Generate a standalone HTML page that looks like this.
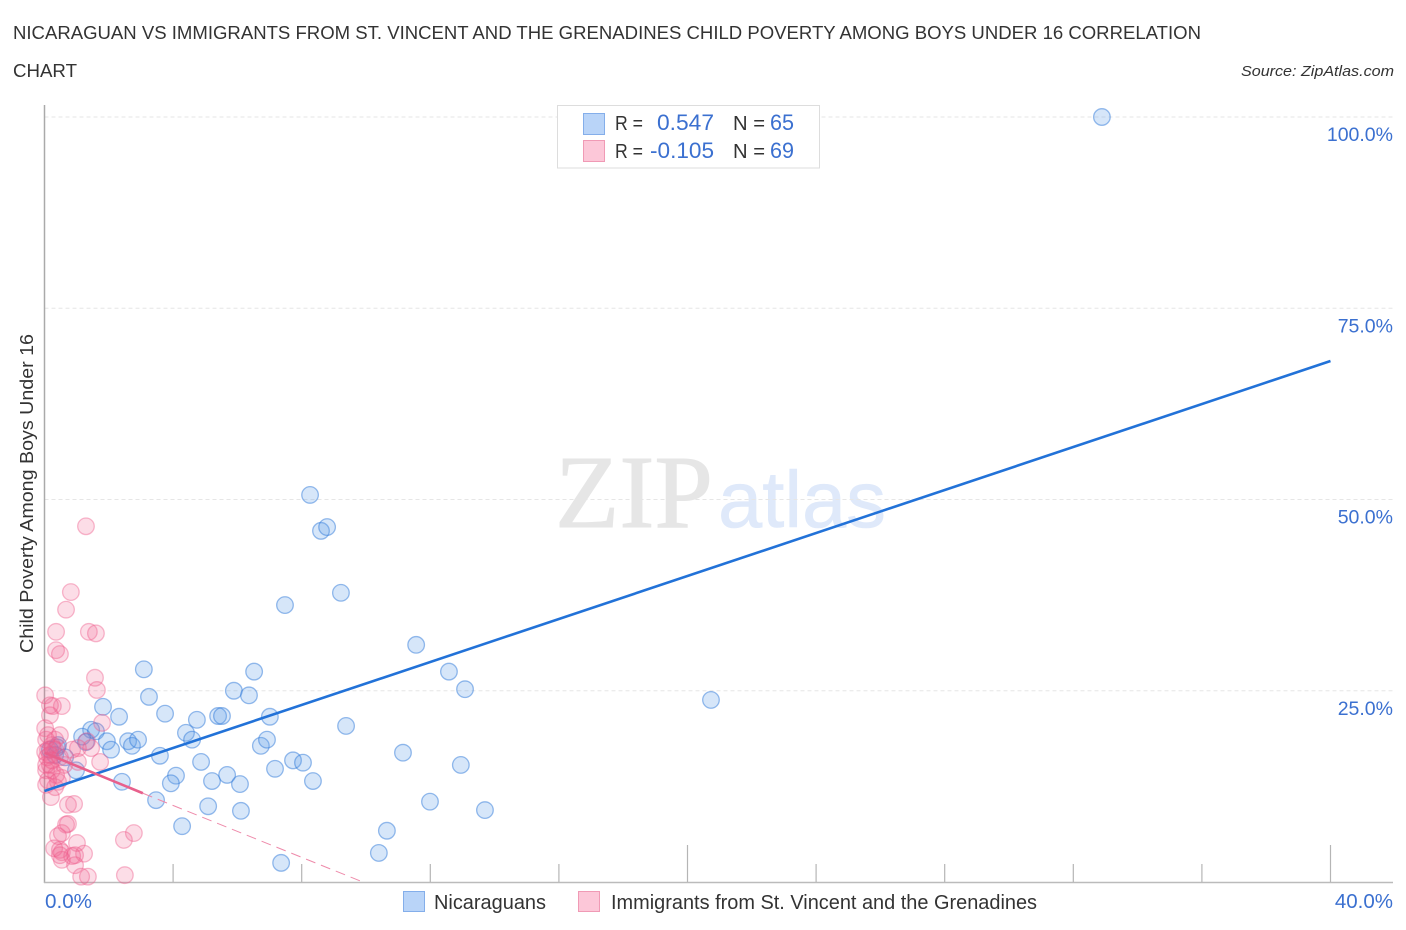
<!DOCTYPE html>
<html>
<head>
<meta charset="utf-8">
<title>Child Poverty Correlation Chart</title>
<style>
html,body{margin:0;padding:0;background:#fff;width:1406px;height:930px;overflow:hidden}
svg{display:block;font-family:"Liberation Sans",sans-serif}
</style>
</head>
<body>
<svg id="chart" width="1406" height="930" viewBox="0 0 1406 930" xmlns="http://www.w3.org/2000/svg">
  <rect width="1406" height="930" fill="#fff"/>
  <text x="13" y="39" font-size="18" fill="#333" textLength="1188" lengthAdjust="spacingAndGlyphs">NICARAGUAN VS IMMIGRANTS FROM ST. VINCENT AND THE GRENADINES CHILD POVERTY AMONG BOYS UNDER 16 CORRELATION</text>
  <text x="13" y="77" font-size="18" fill="#333" textLength="64" lengthAdjust="spacingAndGlyphs">CHART</text>
  <text x="1241" y="76" font-size="15" font-style="italic" fill="#333" textLength="153" lengthAdjust="spacingAndGlyphs">Source: ZipAtlas.com</text>
  <text x="555" y="527" font-family="'Liberation Serif',serif" font-size="104" fill="#e6e6e6" stroke="#e6e6e6" stroke-width="1" textLength="158" lengthAdjust="spacingAndGlyphs">ZIP</text>
  <text x="718" y="527" font-size="80" fill="#dfe9fa" stroke="#dfe9fa" stroke-width="0.6" textLength="168" lengthAdjust="spacingAndGlyphs">atlas</text>
  <g id="grid"></g>
  <g id="axes"></g>
  <g id="marks"></g>
  <g id="lines"></g>
  <g id="labels"></g>
  <text transform="translate(33,493.5) rotate(-90)" font-size="18" fill="#333" text-anchor="middle" textLength="319" lengthAdjust="spacingAndGlyphs">Child Poverty Among Boys Under 16</text>

  <g>
    <rect x="557.5" y="105.5" width="262" height="62.5" fill="#fff" stroke="#ddd"/>
    <rect x="583.5" y="113.5" width="21" height="21" fill="#b9d4f8" stroke="#84aeea"/>
    <rect x="583.5" y="140.5" width="21" height="21" fill="#fcc7d8" stroke="#f09ab5"/>
    <text x="615" y="130" font-size="20" fill="#333" textLength="28" lengthAdjust="spacingAndGlyphs">R =</text>
    <text x="657" y="130" font-size="22" fill="#3b70d0" textLength="57" lengthAdjust="spacingAndGlyphs">0.547</text>
    <text x="733" y="130" font-size="20" fill="#333" textLength="32" lengthAdjust="spacingAndGlyphs">N =</text>
    <text x="770" y="130" font-size="22" fill="#3b70d0" textLength="24" lengthAdjust="spacingAndGlyphs">65</text>
    <text x="615" y="158" font-size="20" fill="#333" textLength="28" lengthAdjust="spacingAndGlyphs">R =</text>
    <text x="650" y="158" font-size="22" fill="#3b70d0" textLength="64" lengthAdjust="spacingAndGlyphs">-0.105</text>
    <text x="733" y="158" font-size="20" fill="#333" textLength="32" lengthAdjust="spacingAndGlyphs">N =</text>
    <text x="770" y="158" font-size="22" fill="#3b70d0" textLength="24" lengthAdjust="spacingAndGlyphs">69</text>
  </g>

  <g>
    <rect x="403.5" y="891.5" width="21" height="20" fill="#b9d4f8" stroke="#84aeea"/>
    <text x="434" y="909" font-size="20" fill="#333" textLength="112" lengthAdjust="spacingAndGlyphs">Nicaraguans</text>
    <rect x="578.5" y="891.5" width="21" height="20" fill="#fcc7d8" stroke="#f09ab5"/>
    <text x="611" y="909" font-size="20" fill="#333" textLength="426" lengthAdjust="spacingAndGlyphs">Immigrants from St. Vincent and the Grenadines</text>
  </g>
</svg>
<script>
var nicaraguanX = [32.89,8.26,8.60,8.79,7.48,9.22,11.56,12.58,13.08,20.73,3.09,6.52,5.89,6.36,3.25,3.75,4.74,5.40,5.52,7.01,9.38,1.82,2.32,1.45,1.60,1.17,1.94,2.07,2.60,2.72,2.91,4.40,4.59,3.59,6.73,6.92,7.73,8.04,7.17,4.87,4.09,3.93,5.21,5.68,6.08,8.35,11.15,12.95,11.99,13.70,3.47,5.09,6.11,4.28,10.65,10.40,7.36,2.41,0.98,1.29,0.39,0.42,0.17,0.33,0.64];
var nicaraguanY = [100.0,50.6,45.9,46.4,36.2,37.8,31.0,27.5,25.2,23.8,27.8,27.5,25.0,24.4,24.2,22.0,21.2,21.7,21.7,21.6,20.4,22.9,21.6,19.9,19.7,19.0,18.4,17.3,18.4,17.8,18.6,19.5,18.6,16.5,17.8,18.6,15.9,15.6,14.8,15.7,13.9,12.9,13.2,14.0,12.8,13.2,16.9,15.3,10.5,9.4,10.7,9.9,9.3,7.3,6.7,3.8,2.5,13.1,14.6,18.3,17.6,17.9,17.3,16.6,16.3];
var immigrantX = [1.29,0.82,0.67,0.36,1.38,1.60,0.36,0.48,1.57,1.63,0.02,0.54,0.26,0.17,0.17,1.79,0.02,0.48,0.33,1.32,0.23,0.11,0.17,0.33,0.02,0.08,0.26,0.48,0.86,1.04,1.45,1.04,1.73,0.61,0.05,0.23,0.36,0.54,0.42,0.05,0.33,0.20,0.73,0.92,0.67,0.73,0.42,0.54,2.47,2.78,1.01,1.23,0.30,0.48,0.54,0.95,0.86,0.54,0.95,1.14,1.35,2.50,0.48,0.05,0.11,0.05,0.17,0.11,0.23];
var immigrantY = [46.5,37.9,35.6,32.7,32.7,32.5,30.3,29.8,26.7,25.1,24.4,23.0,23.0,23.1,21.8,20.8,20.1,19.2,18.6,18.4,17.9,17.3,16.6,17.3,17.0,16.3,17.5,16.3,17.3,17.5,17.5,15.7,15.7,15.3,15.3,14.6,14.0,13.6,13.1,12.7,12.4,11.1,10.1,10.2,7.5,7.6,6.0,6.4,5.5,6.4,5.1,3.7,4.4,4.2,3.9,3.5,3.4,2.9,2.2,0.7,0.7,0.9,3.5,18.6,19.2,14.6,15.3,13.3,15.9];
var nicaraguanTrendX = [0,40];
var nicaraguanTrendY = [11.9,68.1];
var immigrantTrendSolidX = [0,3.06];
var immigrantTrendSolidY = [16.9,11.6];
var immigrantTrendDashedX = [3.06,9.9];
var immigrantTrendDashedY = [11.6,0];
var yTicks = [25,50,75,100];
var yTickLabels = ["25.0%","50.0%","75.0%","100.0%"];
var xTicks = [4,8,12,16,20,24,28,32,36,40];
var xMajorTicks = [20,40];
var xEndLabels = ["0.0%","40.0%"];

var NS = 'http://www.w3.org/2000/svg';
function sx(v){ return 44.5 + v * 32.15; }
function sy(v){ return 882 - v * 7.65; }
function mk(tag, parent, attrs){
  var el = document.createElementNS(NS, tag);
  for (var k in attrs) el.setAttribute(k, attrs[k]);
  document.getElementById(parent).appendChild(el);
  return el;
}

yTicks.forEach(function(t, i){
  var g = mk('line', 'grid', {x1:44.5, x2:1393, y1:sy(t), y2:sy(t), stroke:'#e6e6e6', 'stroke-width':1, 'stroke-dasharray':'4 3'});
  
  
  var l = mk('text', 'labels', {x:1393, y:sy(t)+24, 'font-size':19.5, fill:'#3b70d0', 'text-anchor':'end'});
  l.textContent = yTickLabels[i];
  
  
});

var yAxis = mk('line', 'axes', {x1:44.5, x2:44.5, y1:105, y2:883, stroke:'#aaa', 'stroke-width':1.5});


var xAxis = mk('line', 'axes', {x1:44, x2:1393, y1:882.5, y2:882.5, stroke:'#bbb', 'stroke-width':1.5});


xTicks.forEach(function(t){
  var major = xMajorTicks.indexOf(t) >= 0;
  var tk = mk('line', 'axes', {x1:sx(t), x2:sx(t), y1:major ? 845 : 864, y2:882, stroke:'#b5b5b5', 'stroke-width':1.2});
  
  
});

var x0Label = mk('text', 'labels', {x:45, y:908, 'font-size':20, fill:'#3b70d0', textLength:47, lengthAdjust:'spacingAndGlyphs'});
x0Label.textContent = xEndLabels[0];


var x1Label = mk('text', 'labels', {x:1393, y:908, 'font-size':20.5, fill:'#3b70d0', 'text-anchor':'end'});
x1Label.textContent = xEndLabels[1];



nicaraguanX.forEach(function(v, i){
  var c = mk('circle', 'marks', {cx:sx(v), cy:sy(nicaraguanY[i]), r:8.3, fill:'#5b9be8', 'fill-opacity':0.25, stroke:'#2f7ad9', 'stroke-opacity':0.5, 'stroke-width':1.3});
  
  
});
immigrantX.forEach(function(v, i){
  var c = mk('circle', 'marks', {cx:sx(v), cy:sy(immigrantY[i]), r:8.3, fill:'#f06292', 'fill-opacity':0.22, stroke:'#ee5a8a', 'stroke-opacity':0.42, 'stroke-width':1.3});
  
  
});

var t1 = mk('line', 'lines', {x1:sx(nicaraguanTrendX[0]), y1:sy(nicaraguanTrendY[0]), x2:sx(nicaraguanTrendX[1]), y2:sy(nicaraguanTrendY[1]), stroke:'#2272d8', 'stroke-width':2.6});


var t2 = mk('line', 'lines', {x1:sx(immigrantTrendSolidX[0]), y1:sy(immigrantTrendSolidY[0]), x2:sx(immigrantTrendSolidX[1]), y2:sy(immigrantTrendSolidY[1]), stroke:'#e8608c', 'stroke-width':2.6});


var t3 = mk('line', 'lines', {x1:sx(immigrantTrendDashedX[0]), y1:sy(immigrantTrendDashedY[0]), x2:sx(immigrantTrendDashedX[1]), y2:sy(immigrantTrendDashedY[1]), stroke:'#ee8aaa', 'stroke-width':1, 'stroke-dasharray':'10 6'});


</script>
</body>
</html>
